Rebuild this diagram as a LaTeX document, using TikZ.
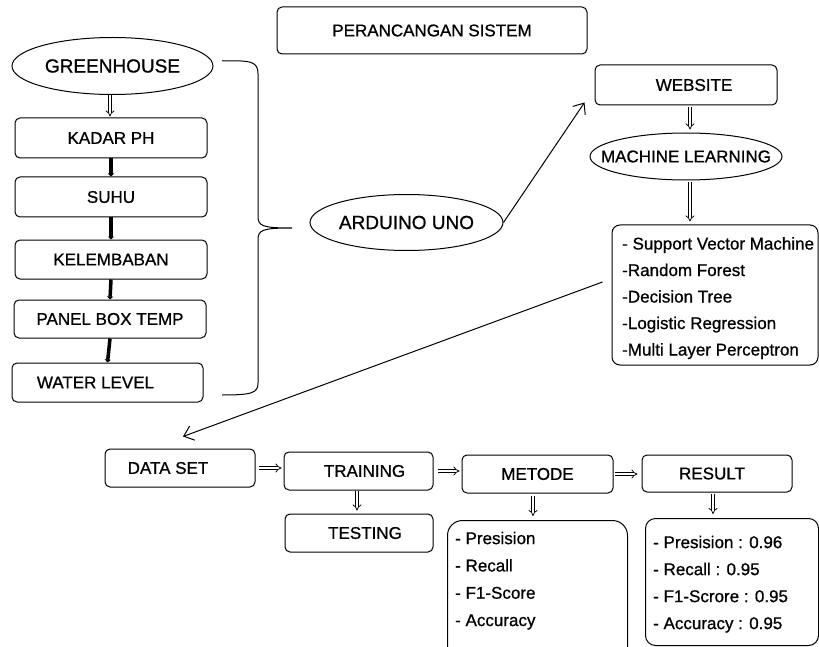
\documentclass[tikz,border=0pt]{standalone}
\usepackage{fontspec}
\setmainfont{Liberation Sans}[FakeBold=0.8]
\usetikzlibrary{arrows.meta,shapes.geometric,calc}
\begin{document}
\begin{tikzpicture}[x=1pt,y=-1pt,
  font=\fontsize{17}{20}\selectfont,
  box/.style={draw, line width=1pt, rounded corners=5pt, inner sep=0pt},
  oval/.style={draw, ellipse, line width=1pt, inner sep=0pt},
  dblarrow/.style={double, double distance=2.4pt, line width=0.75pt, -{Implies}},
  heavyarrow/.style={line width=3.5pt, -{Triangle[length=3pt,width=6pt]}},
  linkarrow/.style={line width=1pt, -{Straight Barb[length=9pt,width=15pt]}},
  lst/.style={align=left, inner sep=0pt, anchor=north west}
]
\useasboundingbox (0,0) rectangle (819,647);
\clip (0,0) rectangle (819,647);

% title
\node[box, minimum width=310pt, minimum height=47pt] (pss) at (432,30.5) {PERANCANGAN SISTEM};

% sensor column
\node[oval, minimum width=201pt, minimum height=57pt] (gh) at (112.5,66) {};
\node[font=\fontsize{19}{22}\selectfont] (ghtxt) at (gh) {GREENHOUSE};
\node[box, minimum width=192pt, minimum height=40pt] (ph) at (111,138) {KADAR PH};
\node[box, minimum width=192pt, minimum height=40pt] (suhu) at (111,197) {SUHU};
\node[box, minimum width=192pt, minimum height=39pt] (lembab) at (111,259.5) {KELEMBABAN};
\node[box, minimum width=192pt, minimum height=38pt] (panel) at (110,319) {PANEL BOX TEMP};
\node[box, minimum width=191pt, minimum height=39pt] (water) at (107.5,382.5) {WATER LEVEL\hspace*{24pt}};

\draw[dblarrow, shorten >=1pt] ($(gh.south)+(-2.5,0)$) -- ($(gh.south |- ph.north)+(-2.5,0)$);
\draw[heavyarrow] (ph.south) -- (suhu.north);
\draw[heavyarrow] (suhu.south) -- (lembab.north);
\draw[heavyarrow] (lembab.south) -- (panel.north);
\draw[heavyarrow] (panel.south) -- (water.north);

% brace gathering the sensors
\draw[line width=1pt] (222,61) .. controls (252,60) and (258,62) .. (258,74) -- (258,216)
  .. controls (258,226) and (262,228) .. (292,228)
  .. controls (262,228) and (258,230) .. (258,240) -- (258,383)
  .. controls (258,393) and (252,395) .. (222,395);

% controller
\node[oval, minimum width=193pt, minimum height=56pt] (ard) at (406.5,222.5) {};
\node[font=\fontsize{19}{22}\selectfont] (ardtxt) at (ard) {ARDUINO UNO};

% web and learning
\node[box, minimum width=182pt, minimum height=40pt] (web) at (686,85) {\hspace*{16pt}WEBSITE};
\node[oval, minimum width=192pt, minimum height=47pt] (ml) at (686,156.5) {};
\node (mltxt) at (ml) {MACHINE LEARNING};
\node[box, rounded corners=8pt, minimum width=206pt, minimum height=140pt] (mllist) at (715,295) {};
\node[lst, font=\fontsize{17}{26.5}\selectfont] (mlitems) at (622,237)
  {- Support Vector Machine\\-Random Forest\\-Decision Tree\\-Logistic Regression\\-Multi Layer Perceptron};

\draw[linkarrow] (ard.east) -- ($(web.south west)+(-10,-3)$);
\draw[dblarrow, shorten <=2pt, shorten >=3pt] ($(web.south)+(4,0)$) -- ($(ml.north)+(4,0)$);
\draw[dblarrow, shorten <=2pt, shorten >=3pt] ($(ml.south)+(4,0)$) -- ($(ml.south |- mllist.north)+(4,0)$);

% evaluation row
\node[box, minimum width=150pt, minimum height=38pt] (data) at (180,468) {DATA SET\hspace*{24pt}};
\node[box, minimum width=149pt, minimum height=38pt] (train) at (358.5,471) {\hspace*{12pt}TRAINING};
\node[box, minimum width=148pt, minimum height=38pt] (test) at (359,533) {\hspace*{12pt}TESTING};
\node[box, minimum width=151pt, minimum height=38pt] (met) at (537.5,474) {METODE};
\node[box, minimum width=150pt, minimum height=37pt] (res) at (717,473.5) {RESULT\hspace*{10pt}};

\draw[linkarrow] ($(mllist.west)+(-9,-13)$) -- ($(data.north)+(3,-12)$);
\draw[dblarrow, shorten <=3pt, shorten >=2pt] (data.east) -- (data.east -| train.west);
\draw[dblarrow, shorten <=4pt, shorten >=2pt] (train.east) -- (train.east -| met.west);
\draw[dblarrow, shorten <=1pt, shorten >=4pt] (met.east) -- (met.east -| res.west);
\draw[dblarrow, shorten >=3pt] ($(train.south)+(-1.5,0)$) -- ($(train.south |- test.north)+(-1.5,0)$);

\node[box, rounded corners=15pt, minimum width=180pt, minimum height=145pt, anchor=north west] (metbox) at (447,520) {};
\node[lst, font=\fontsize{17}{27.3}\selectfont] (metitems) at (455,531.6)
  {- Presision\\- Recall\\- F1-Score\\- Accuracy};
\node[box, rounded corners=10pt, minimum width=173pt, minimum height=127pt, anchor=north west] (resbox) at (645,518) {};
\node[lst, font=\fontsize{17}{27}\selectfont] (resitems) at (653,535.6)
  {- Presision : 0.96\\- Recall : 0.95\\- F1-Scrore : 0.95\\- Accuracy : 0.95};

\draw[dblarrow, shorten <=2pt, shorten >=4pt] ($(met.south)+(-4.5,0)$) -- ($(met.south |- metbox.north)+(-4.5,0)$);
\draw[dblarrow, shorten <=1pt, shorten >=4pt] ($(res.south)+(-4,0)$) -- ($(res.south |- resbox.north)+(-4,0)$);
\end{tikzpicture}
\end{document}
